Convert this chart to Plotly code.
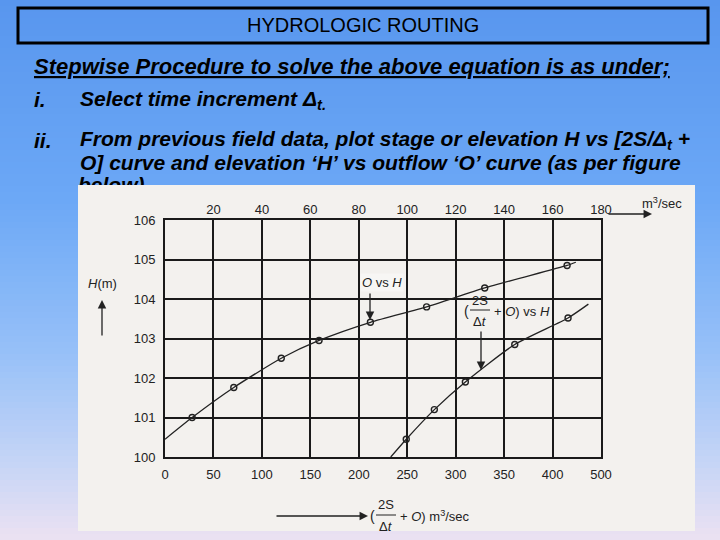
import plotly.graph_objects as go

# ---------------- data ----------------
# O vs H curve (outflow, top axis m3/sec)
outflow_O = [11.2, 28.4, 48.0, 63.6, 84.8, 108.0, 132.0, 166.0]
outflow_H = [101.0, 101.76, 102.5, 102.95, 103.41, 103.8, 104.28, 104.85]
outflow_curve_start = (0.0, 100.45)
outflow_curve_end = (169.6, 104.93)

# (2S/dt + O) vs H curve (bottom axis m3/sec)
storage_Q = [249, 278, 310, 361, 416]
storage_H = [100.45, 101.2, 101.9, 102.85, 103.52]
storage_curve_start = (233, 100.0)
storage_curve_end = (437, 103.87)

bottom_ticks = [0, 50, 100, 150, 200, 250, 300, 350, 400, 450]
bottom_ticklabels = ["0", "50", "100", "150", "200", "250", "300", "350", "400", "500"]
top_ticks = [20, 40, 60, 80, 100, 120, 140, 160, 180]
y_ticks = [100, 101, 102, 103, 104, 105, 106]

# ---------------- helpers ----------------
W, H = 720, 540
def px(x):
    return x / W
def py(y):
    return 1 - y / H

FONT_BODY = "Liberation Sans Narrow, Arial Narrow, Liberation Sans, Arial"
FONT_CHART = "Liberation Sans, Arial"

fig = go.Figure()

# curve lines
fig.add_trace(go.Scatter(
    x=[outflow_curve_start[0]] + outflow_O + [outflow_curve_end[0]],
    y=[outflow_curve_start[1]] + outflow_H + [outflow_curve_end[1]],
    xaxis="x2", yaxis="y", mode="lines",
    line=dict(color="#222", width=1.3, shape="spline", smoothing=0.6),
    hoverinfo="skip", showlegend=False))
fig.add_trace(go.Scatter(
    x=outflow_O, y=outflow_H, xaxis="x2", yaxis="y", mode="markers",
    marker=dict(symbol="circle-open", size=6, color="#222", line=dict(width=1.4)),
    showlegend=False))
fig.add_trace(go.Scatter(
    x=[storage_curve_start[0]] + storage_Q + [storage_curve_end[0]],
    y=[storage_curve_start[1]] + storage_H + [storage_curve_end[1]],
    xaxis="x", yaxis="y", mode="lines",
    line=dict(color="#222", width=1.3, shape="spline", smoothing=0.6),
    hoverinfo="skip", showlegend=False))
fig.add_trace(go.Scatter(
    x=storage_Q, y=storage_H, xaxis="x", yaxis="y", mode="markers",
    marker=dict(symbol="circle-open", size=6, color="#222", line=dict(width=1.4)),
    showlegend=False))

# clipped "below)" text line (hidden partly behind the picture)
fig.add_trace(go.Scatter(
    x=[78], y=[187], xaxis="x3", yaxis="y3", mode="text",
    text=["<b><i>below)</i></b>"], textposition="middle right",
    textfont=dict(family=FONT_BODY, size=21, color="#000"),
    cliponaxis=True, hoverinfo="skip", showlegend=False))

# ---------------- background shapes ----------------
shapes = []
stops = [(0, (88, 150, 238)), (200, (108, 168, 246)), (350, (150, 192, 248)),
         (460, (196, 212, 246)), (540, (236, 226, 242))]
def grad(y):
    for (y0, c0), (y1, c1) in zip(stops[:-1], stops[1:]):
        if y0 <= y <= y1:
            t = (y - y0) / (y1 - y0)
            return tuple(int(round(a + (b - a) * t)) for a, b in zip(c0, c1))
    return stops[-1][1]
band = 6
for y0 in range(0, H, band):
    c = grad(y0 + band / 2)
    shapes.append(dict(type="rect", xref="paper", yref="paper", layer="below",
                       x0=0, x1=1, y0=py(y0 + band + 0.5), y1=py(y0),
                       fillcolor="rgb(%d,%d,%d)" % c, line=dict(width=0)))
# photo
shapes.append(dict(type="rect", xref="paper", yref="paper", layer="below",
                   x0=px(78), x1=px(695), y0=py(531), y1=py(185),
                   fillcolor="#f3f1ee", line=dict(width=0)))
# title box
shapes.append(dict(type="rect", xref="paper", yref="paper",
                   x0=px(18), x1=px(708), y0=py(43), y1=py(8),
                   line=dict(color="#000", width=3)))
# fraction bars
shapes.append(dict(type="line", xref="paper", yref="paper",
                   x0=px(470), x1=px(490), y0=py(310), y1=py(310),
                   line=dict(color="#222", width=1)))
shapes.append(dict(type="line", xref="paper", yref="paper",
                   x0=px(376), x1=px(396), y0=py(515), y1=py(515),
                   line=dict(color="#222", width=1)))

# ---------------- annotations ----------------
ann = []
def txt(x, y, s, size, family=FONT_CHART, xanchor="center", color="#222", **kw):
    ann.append(dict(x=px(x), y=py(y), xref="paper", yref="paper", text=s,
                    showarrow=False, xanchor=xanchor, yanchor="middle",
                    font=dict(family=family, size=size, color=color), **kw))
def arrow(x0, y0, x1, y1):
    ann.append(dict(x=px(x1), y=py(y1), xref="paper", yref="paper",
                    ax=x0 - x1, ay=y0 - y1, axref="pixel", ayref="pixel",
                    text="", showarrow=True, arrowhead=2, arrowsize=1.3,
                    arrowwidth=1.3, arrowcolor="#222"))

txt(363, 25, "HYDROLOGIC ROUTING", 20, family="Liberation Sans, Arial", color="#000")
txt(32, 66, "<b><i><u>Stepwise Procedure to solve the above equation is as under;</u></i></b>",
    22, family=FONT_BODY, xanchor="left", color="#000")
txt(32, 100, "<b><i>i.</i></b>", 21, family=FONT_BODY, xanchor="left", color="#000")
txt(78, 100, "<b><i>Select time increment Δ<sub>t.</sub></i></b>", 21, family=FONT_BODY,
    xanchor="left", color="#000")
txt(32, 140, "<b><i>ii.</i></b>", 21, family=FONT_BODY, xanchor="left", color="#000")
txt(78, 140, "<b><i>From previous field data, plot stage or elevation H vs [2S/Δ<sub>t</sub> +</i></b>",
    21, family=FONT_BODY, xanchor="left", color="#000")
txt(78, 163, "<b><i>O] curve and elevation ‘H’ vs outflow ‘O’ curve (as per figure</i></b>",
    21, family=FONT_BODY, xanchor="left", color="#000")

# chart labels
txt(662, 203, "m<sup>3</sup>/sec", 13)
arrow(607, 214, 652, 214)
txt(102, 283, "<i>H</i>(m)", 13)
arrow(102, 337, 102, 300)
txt(382, 282, "<i>O</i> vs <i>H</i>", 13, bgcolor="#f7f6f4")
arrow(370, 292, 370, 320)
txt(466, 311, "(", 14)
txt(480, 300, "2S", 13)
txt(480, 321, "Δ<i>t</i>", 13)
txt(492, 311, "+ <i>O</i>) vs <i>H</i>", 13, xanchor="left")
arrow(481, 330, 481, 370)
arrow(275, 516, 368, 516)
txt(372, 516, "(", 14)
txt(386, 504, "2S", 13)
txt(386, 526, "Δ<i>t</i>", 13)
txt(398, 516, "+ <i>O</i>) m<sup>3</sup>/sec", 13, xanchor="left")

tickfont = dict(family=FONT_CHART, size=13, color="#222")
gridc = "#1a1a1a"
fig.update_layout(
    autosize=True, margin=dict(l=0, r=0, t=0, b=0, autoexpand=False),
    paper_bgcolor="#6aa6f0", plot_bgcolor="rgba(0,0,0,0)",
    showlegend=False, shapes=shapes, annotations=ann,
    xaxis=dict(domain=[px(165), px(601)], range=[0, 450], tickvals=bottom_ticks,
               ticktext=bottom_ticklabels, showgrid=True, gridcolor=gridc, gridwidth=2,
               showline=True, linecolor=gridc, linewidth=2, mirror=True,
               zeroline=False, ticks="", tickfont=tickfont, ticklabelstandoff=4,
               anchor="y", fixedrange=True),
    xaxis2=dict(overlaying="x", side="top", range=[0, 180], tickvals=top_ticks,
                showgrid=False, zeroline=False, ticks="", tickfont=tickfont,
                ticklabelstandoff=2, anchor="y", fixedrange=True),
    yaxis=dict(domain=[py(457), py(220)], range=[100, 106], tickvals=y_ticks,
               showgrid=True, gridcolor=gridc, gridwidth=2, zeroline=False,
               showline=True, linecolor=gridc, linewidth=2, mirror=True,
               ticks="", tickfont=tickfont, ticklabelstandoff=5, anchor="x",
               fixedrange=True),
    xaxis3=dict(domain=[0, 1], range=[0, 720], visible=False, anchor="y3", fixedrange=True),
    yaxis3=dict(domain=[py(185), py(150)], range=[185, 150], visible=False, anchor="x3",
                fixedrange=True),
)

post = (
    "document.documentElement.style.margin='0';"
    "document.documentElement.style.padding='0';"
    "document.documentElement.style.overflow='hidden';"
    "document.body.style.margin='0';"
    "document.body.style.padding='0';"
    "document.body.style.overflow='hidden';"
    "var gd=document.getElementById('{plot_id}');"
    "gd.style.position='fixed';gd.style.left='0px';gd.style.top='0px';"
)
fig.write_html("out.html", config={"displayModeBar": False, "responsive": True},
               default_width="100vw", default_height="100vh", post_script=post)
